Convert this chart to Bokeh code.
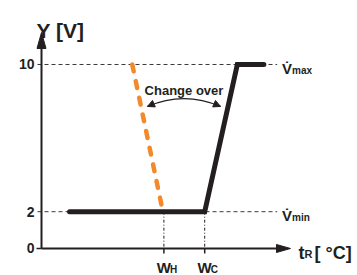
from bokeh.plotting import figure
from bokeh.models import Range1d, Arrow, NormalHead
from bokeh.core.properties import value
from bokeh.embed import file_html
from bokeh.resources import INLINE

# ---- data (schematic values) ----
y_ticks = [0, 2, 10]
y_tick_labels = ["0", "2", "10"]
w_h = 12.0
w_c = 16.0
x_tick_pos = [w_h, w_c]
x_tick_main = ["W", "W"]
x_tick_sub = ["H", "C"]
ref_levels = [2, 10]
ref_main = ["V\u0307", "V\u0307"]
ref_sub = ["min", "max"]
black_x = [2.75, w_c, 19.2, 21.8]
black_y = [2, 2, 10, 10]
orange_x = [8.9, 11.9]
orange_y = [10, 2]
x_axis_end = 24.41
y_axis_end = 11.74
ref_line_end = 23.1
change_x = [10.39, 13.97, 17.55]   # start, control, end of the arc
change_y = [7.72, 8.58, 7.72]
change_text_y = 8.59

W, H = 357, 275
x0, x1 = -4.0196, 30.98
y0, y1 = -1.4674, 13.478
sx = W / (x1 - x0)
sy = H / (y1 - y0)

INK = "#231f20"
ORANGE = "#f28a2b"
FONT = value("Liberation Sans")

p = figure(width=W, height=H, x_range=Range1d(x0, x1), y_range=Range1d(y0, y1),
           output_backend="svg", toolbar_location=None, min_border=0,
           x_axis_location=None, y_axis_location=None)
p.grid.visible = False
p.outline_line_color = None
p.background_fill_color = "white"

# reference dashed lines
p.segment(x0=[-4 / sx] * 2, y0=ref_levels, x1=[ref_line_end] * 2, y1=ref_levels,
          line_color="#3a3a3a", line_width=1, line_dash="4 3")
# vertical dash-dot lines from the min level down to the axis
p.segment(x0=x_tick_pos, y0=[ref_levels[0]] * 2, x1=x_tick_pos, y1=[0, 0],
          line_color=INK, line_width=1, line_dash="3 2 1 2")

# axes
p.segment(x0=[0], y0=[0], x1=[0], y1=[y_axis_end - 10 / sy], line_color=INK, line_width=2)
p.segment(x0=[0], y0=[0], x1=[x_axis_end - 8 / sx], y1=[0], line_color=INK, line_width=2)
p.patch([0, -4.5 / sx, 4.5 / sx], [y_axis_end, y_axis_end - 16 / sy, y_axis_end - 16 / sy],
        color=INK)
p.patch([x_axis_end, x_axis_end - 14 / sx, x_axis_end - 14 / sx], [0, 4 / sy, -4 / sy],
        color=INK)
# ticks
p.segment(x0=x_tick_pos, y0=[0, 0], x1=x_tick_pos, y1=[-5 / sy] * 2, line_color=INK, line_width=1.5)
p.segment(x0=[-5 / sx], y0=[0], x1=[0], y1=[0], line_color=INK, line_width=1.5)

# series
p.line(orange_x, orange_y, line_width=4.5, color=ORANGE, line_dash="7 10", line_cap="round")
p.line(black_x, black_y, line_width=5, color=INK, line_cap="round", line_join="miter")

# change-over arc
p.quadratic(x0=[change_x[0]], y0=[change_y[0]], x1=[change_x[2]], y1=[change_y[2]],
            cx=[change_x[1]], cy=[change_y[1]], line_color=INK, line_width=1.3)
for i in (0, 2):
    xs = change_x[i] + 0.15 * (change_x[1] - change_x[i])
    ys = change_y[i] + 0.15 * (change_y[1] - change_y[i])
    p.add_layout(Arrow(x_start=xs, y_start=ys, x_end=change_x[i], y_end=change_y[i],
                       line_alpha=0,
                       end=NormalHead(size=7, fill_color=INK, line_color=INK, line_width=1)))
p.text(x=[change_x[1]], y=[change_text_y], text=["Change over"], text_font=FONT,
       text_font_style="bold", text_font_size="13px", text_align="center",
       text_baseline="alphabetic", text_color=INK)

# y tick labels
p.text(x=[0] * 3, y=y_ticks, text=y_tick_labels, text_font=FONT, text_font_style="bold",
       text_font_size="14px", text_align="right", text_baseline="middle",
       x_offset=-7, text_color=INK)
# x tick labels
p.text(x=x_tick_pos, y=[0, 0], text=x_tick_main, text_font=FONT, text_font_style="bold",
       text_font_size="15px", text_align="center", text_baseline="alphabetic",
       y_offset=19, text_color=INK)
p.text(x=x_tick_pos, y=[0, 0], text=x_tick_sub, text_font=FONT, text_font_style="bold",
       text_font_size="10px", text_align="left", text_baseline="alphabetic",
       x_offset=6, y_offset=21, text_color=INK)

# reference line labels
p.text(x=[ref_line_end] * 2, y=ref_levels, text=ref_main, text_font=FONT,
       text_font_style="bold", text_font_size="15px", text_align="left",
       text_baseline="alphabetic", x_offset=5, y_offset=4, text_color=INK)
p.text(x=[ref_line_end] * 2, y=ref_levels, text=ref_sub, text_font=FONT,
       text_font_style="bold", text_font_size="10px", text_align="left",
       text_baseline="alphabetic", x_offset=15, y_offset=6, text_color=INK)

# axis titles
p.text(x=[0], y=[y_axis_end], text=["Y [V]"], text_font=FONT, text_font_style="bold",
       text_font_size="21px", text_align="left", text_baseline="alphabetic",
       x_offset=-5, y_offset=-2, text_color=INK)
p.text(x=[x_axis_end], y=[0], text=["t"], text_font=FONT, text_font_style="bold",
       text_font_size="18px", text_align="left", text_baseline="alphabetic",
       x_offset=8, y_offset=5, text_color=INK)
p.text(x=[x_axis_end], y=[0], text=["R"], text_font=FONT, text_font_style="bold",
       text_font_size="11px", text_align="left", text_baseline="alphabetic",
       x_offset=14, y_offset=6, text_color=INK)
p.text(x=[x_axis_end], y=[0], text=["[ \u00b0C]"], text_font=FONT, text_font_style="bold",
       text_font_size="18px", text_align="left", text_baseline="alphabetic",
       x_offset=24, y_offset=5, text_color=INK)

open("out.html", "w").write(file_html(p, INLINE))
